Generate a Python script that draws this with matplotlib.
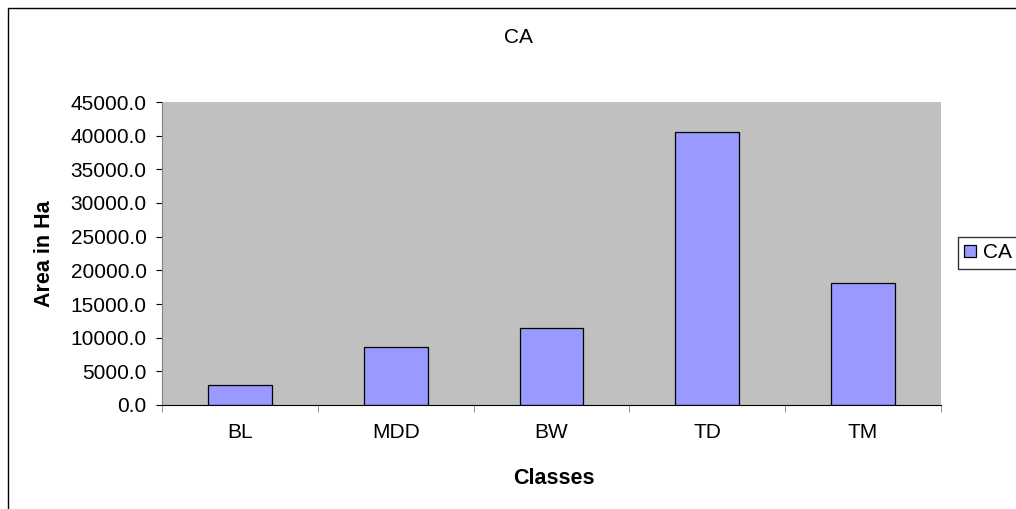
import numpy as np
import matplotlib.pyplot as plt
from matplotlib.patches import Rectangle

plt.rcParams['font.family'] = ['Liberation Sans', 'DejaVu Sans']

classes = ['BL', 'MDD', 'BW', 'TD', 'TM']
area = [2970, 8650, 11400, 40550, 18150]
yticks = np.arange(0, 45001, 5000)

W, H = 1016, 509
fig = plt.figure(figsize=(W / 100, H / 100), dpi=100)

def fx(px):
    return px / W

def fy(py):
    return 1 - py / H

# outer chart border (right and bottom edges fall outside the picture)
fig.patches.append(Rectangle((fx(8), -0.05), 1.2, fy(8) + 0.05, transform=fig.transFigure,
                             fill=False, edgecolor='black', linewidth=1.0))

ax = fig.add_axes([fx(162), fy(405), (941 - 162) / W, (405 - 102) / H])
ax.set_facecolor('#c0c0c0')

x = np.arange(len(classes))
ax.bar(x, area, width=0.41, color='#9999ff', edgecolor='black', linewidth=0.9, label='CA')

ax.set_xlim(-0.5, len(classes) - 0.5)
ax.set_ylim(0, 45000)
ax.set_yticks(yticks)
ax.set_yticklabels([f'{v:.1f}' for v in yticks], fontsize=15)
ax.set_xticks(x)
ax.set_xticklabels(classes, fontsize=15)
ax.tick_params(axis='x', length=0, pad=13)
ax.set_xticks(np.arange(-0.5, len(classes)), minor=True)
ax.tick_params(axis='x', which='minor', length=5, color='#808080')
ax.tick_params(axis='y', length=4, color='black', pad=7)

for s in ['top', 'right']:
    ax.spines[s].set_visible(False)
ax.spines['left'].set_color('#808080')
ax.spines['bottom'].set_color('black')

fig.text(fx(518), fy(43), 'CA', fontsize=15, ha='center', va='baseline')
fig.text(fx(554), fy(484), 'Classes', fontsize=15.5, fontweight='bold', ha='center', va='baseline')
fig.text(fx(44), fy(254), 'Area in Ha', fontsize=15.5, fontweight='bold', rotation=90,
         ha='center', va='center')

leg = ax.legend(loc='upper left', bbox_to_anchor=(fx(958), fy(237)), bbox_transform=fig.transFigure,
                fontsize=15, frameon=True, fancybox=False, edgecolor='black',
                handlelength=0.55, handleheight=0.55, handletextpad=0.35,
                borderpad=0.3, borderaxespad=0)
leg.get_frame().set_linewidth(1.0)

fig.savefig('out.png', dpi=100)
